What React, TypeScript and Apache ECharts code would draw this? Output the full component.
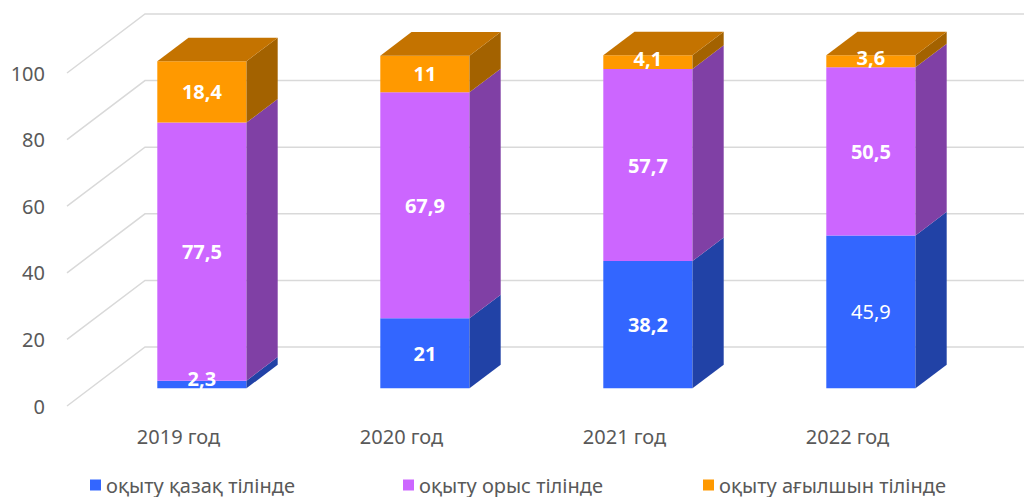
import React, { useEffect, useRef } from "react";
import * as echarts from "echarts";

const categories = ["2019 год", "2020 год", "2021 год", "2022 год"];
const seriesNames = ["оқыту қазақ тілінде", "оқыту орыс тілінде", "оқыту ағылшын тілінде"];
const kazakh = [2.3, 21, 38.2, 45.9];
const russian = [77.5, 67.9, 57.7, 50.5];
const english = [18.4, 11, 4.1, 3.6];
const yTicks = [0, 20, 40, 60, 80, 100];

const FONT = "'Noto Sans', 'Open Sans', sans-serif";
const DEPTH_X = 78;
const DEPTH_Y = -59;
const F1 = 0.3;
const F2 = 0.7;

const palettes = [
  { front: "#3366FF", side: "#2142A6", top: "#2A52CC" },
  { front: "#CC66FF", side: "#8040A5", top: "#A352CC" },
  { front: "#FF9900", side: "#A36200", top: "#C47300" },
];

export default function App() {
  const ref = useRef<HTMLDivElement>(null);
  useEffect(() => {
    if (!ref.current) return;
    const chart = echarts.init(ref.current, null, { renderer: "svg" });
    const allValues = [kazakh, russian, english];
    const bases = allValues.map((_, si) =>
      categories.map((__, ci) => {
        let b = 0;
        for (let k = 0; k < si; k++) b += allValues[k][ci];
        return b;
      })
    );

    const geom = (api: any) => {
      const cat = api.value(0);
      const v = api.value(1);
      const base = api.value(2);
      const p0 = api.coord([cat, base]);
      const p1 = api.coord([cat, base + v]);
      const band = api.size([1, 0])[0];
      const w = band * 0.4;
      const fx = p0[0] + DEPTH_X * F1 - w / 2;
      const yb = p0[1] + DEPTH_Y * F1;
      const yt = p1[1] + DEPTH_Y * F1;
      return { cat, v, fx, yb, yt, w };
    };

    const makeBarSeries = (si: number) => ({
      type: "custom",
      name: seriesNames[si],
      coordinateSystem: "cartesian2d",
      itemStyle: { color: palettes[si].front },
      encode: { x: 0, y: 1 },
      z: 5 + si,
      data: categories.map((_, ci) => [ci, allValues[si][ci], bases[si][ci]]),
      renderItem: (params: any, api: any) => {
        const { fx, yb, yt, w } = geom(api);
        const ddx = DEPTH_X * (F2 - F1);
        const ddy = DEPTH_Y * (F2 - F1);
        const pal = palettes[si];
        const children: any[] = [
          {
            type: "rect",
            shape: { x: fx, y: yt, width: w, height: yb - yt },
            style: { fill: pal.front },
          },
          {
            type: "polygon",
            shape: {
              points: [
                [fx + w, yb],
                [fx + w, yt],
                [fx + w + ddx, yt + ddy],
                [fx + w + ddx, yb + ddy],
              ],
            },
            style: { fill: pal.side },
          },
        ];
        if (si === allValues.length - 1) {
          children.push({
            type: "polygon",
            shape: {
              points: [
                [fx, yt],
                [fx + w, yt],
                [fx + w + ddx, yt + ddy],
                [fx + ddx, yt + ddy],
              ],
            },
            style: { fill: pal.top },
          });
        }
        return { type: "group", children };
      },
    });

    const labelData: any[] = [];
    allValues.forEach((vals, si) =>
      vals.forEach((v, ci) => labelData.push([ci, v, bases[si][ci], si]))
    );

    const labelSeries = {
      type: "custom",
      name: "labels",
      coordinateSystem: "cartesian2d",
      encode: { x: 0, y: 1 },
      silent: true,
      z: 20,
      data: labelData,
      renderItem: (params: any, api: any) => {
        const { cat, v, fx, yb, yt, w } = geom(api);
        const si = api.value(3);
        const bold = !(si === 0 && cat === 3);
        const cy = Math.min((yt + yb) / 2, yb - 10);
        return {
          type: "text",
          style: {
            text: String(v).replace(".", ","),
            x: fx + w / 2,
            y: cy,
            align: "center",
            verticalAlign: "middle",
            fill: "#FFFFFF",
            font: `${bold ? "bold " : ""}20px ${FONT}`,
          },
        };
      },
    };

    const gridSeries = {
      type: "custom",
      name: "grid",
      coordinateSystem: "cartesian2d",
      encode: { x: 0, y: 1 },
      silent: true,
      z: 1,
      data: yTicks.map((t) => [0, t]),
      renderItem: (params: any, api: any) => {
        const cs = params.coordSys;
        const y = api.coord([0, api.value(1)])[1];
        return {
          type: "polyline",
          shape: {
            points: [
              [cs.x, y],
              [cs.x + DEPTH_X, y + DEPTH_Y],
              [cs.x + cs.width + DEPTH_X + 200, y + DEPTH_Y],
            ],
          },
          style: { stroke: "#D9D9D9", lineWidth: 1.5, fill: "none" },
        };
      },
    };

    const legendLefts = [85, 398, 698];
    chart.setOption({
      animation: false,
      backgroundColor: "#FFFFFF",
      textStyle: { fontFamily: FONT },
      grid: { left: 67, top: 73, width: 892, height: 333 },
      legend: seriesNames.map((n, i) => ({
        data: [{ name: n, itemStyle: { color: palettes[i].front } }],
        left: legendLefts[i],
        top: 470,
        icon: "rect",
        itemWidth: 11,
        itemHeight: 11,
        textStyle: { fontSize: 20, color: "#595959", fontFamily: FONT },
      })),
      xAxis: {
        type: "category",
        data: categories,
        boundaryGap: true,
        axisLine: { show: false },
        axisTick: { show: false },
        axisLabel: { fontSize: 20, color: "#595959", margin: 20, fontFamily: FONT },
      },
      yAxis: {
        type: "value",
        min: 0,
        max: 100,
        interval: 20,
        axisLine: { show: false },
        axisTick: { show: false },
        splitLine: { show: false },
        axisLabel: { fontSize: 20, color: "#595959", margin: 22, fontFamily: FONT },
      },
      series: [
        gridSeries,
        makeBarSeries(0),
        makeBarSeries(1),
        makeBarSeries(2),
        labelSeries,
      ],
    });
    return () => chart.dispose();
  }, []);
  return (
    <div
      ref={ref}
      style={{ position: "fixed", left: 0, top: 0, width: 1024, height: 497 }}
    />
  );
}
